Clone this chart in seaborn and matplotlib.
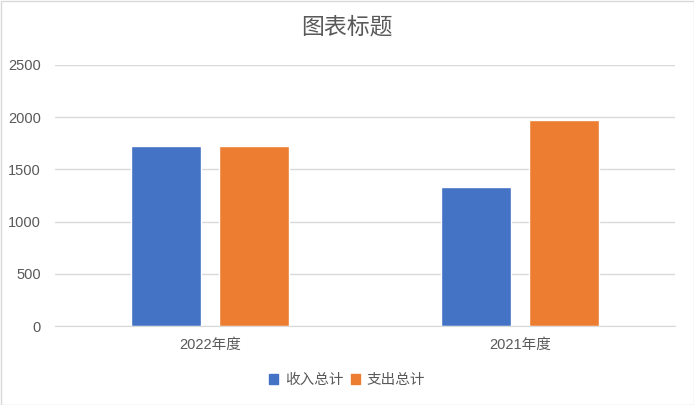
import matplotlib
matplotlib.use('Agg')
import matplotlib.pyplot as plt
import pandas as pd
import seaborn as sns
from matplotlib.patches import Rectangle

# data
years = ['2022年度', '2021年度']
series = ['收入总计', '支出总计']
income = [1722, 1332]
expense = [1722, 1972]
colors = ['#4472C4', '#ED7D31']

df = pd.DataFrame({'年度': years * 2,
                   '类别': [series[0]] * 2 + [series[1]] * 2,
                   '金额': income + expense})

sns.set_style('white')
plt.rcParams['font.family'] = ['Liberation Sans', 'Noto Sans CJK SC', 'DejaVu Sans']

fig = plt.figure(figsize=(6.94, 4.05), dpi=100)
ax = fig.add_axes([55 / 694, 1 - 326.3 / 405, 620 / 694, (326.3 - 64.7) / 405])

sns.barplot(data=df, x='年度', y='金额', hue='类别', order=years, hue_order=series,
            palette=colors, width=0.568, gap=0.205, saturation=1, ax=ax, legend=False)

ax.set_ylim(0, 2500)
ax.set_yticks(range(0, 2501, 500))
ax.set_xlim(-0.5, 1.5)
ax.yaxis.grid(True, color='#d9d9d9', linewidth=1)
ax.set_axisbelow(True)
for s in ['top', 'right', 'left']:
    ax.spines[s].set_visible(False)
ax.spines['bottom'].set_color('#d9d9d9')
ax.tick_params(axis='both', length=0, colors='#595959', labelsize=10.5)
ax.tick_params(axis='y', pad=10)
ax.tick_params(axis='x', pad=8)
ax.set_xlabel('')
ax.set_ylabel('')

fig.text(0.5, 1 - 27 / 405, '图表标题', ha='center', va='center', fontsize=16.5, color='#595959')

handles = [Rectangle((0, 0), 1, 1, color=c) for c in colors]
fig.legend(handles, series, loc='center', bbox_to_anchor=(0.5, 1 - 380 / 405), ncol=2,
           frameon=False, fontsize=10.5, labelcolor='#595959', handlelength=0.65,
           handleheight=0.65, handletextpad=0.45, columnspacing=0.5)

fig.patches.append(Rectangle((0.5 / 694, 0.5 / 405), 693 / 694, 404 / 405, transform=fig.transFigure,
                             fill=False, edgecolor='#d9d9d9', linewidth=1))

fig.savefig('out.png', dpi=100)
